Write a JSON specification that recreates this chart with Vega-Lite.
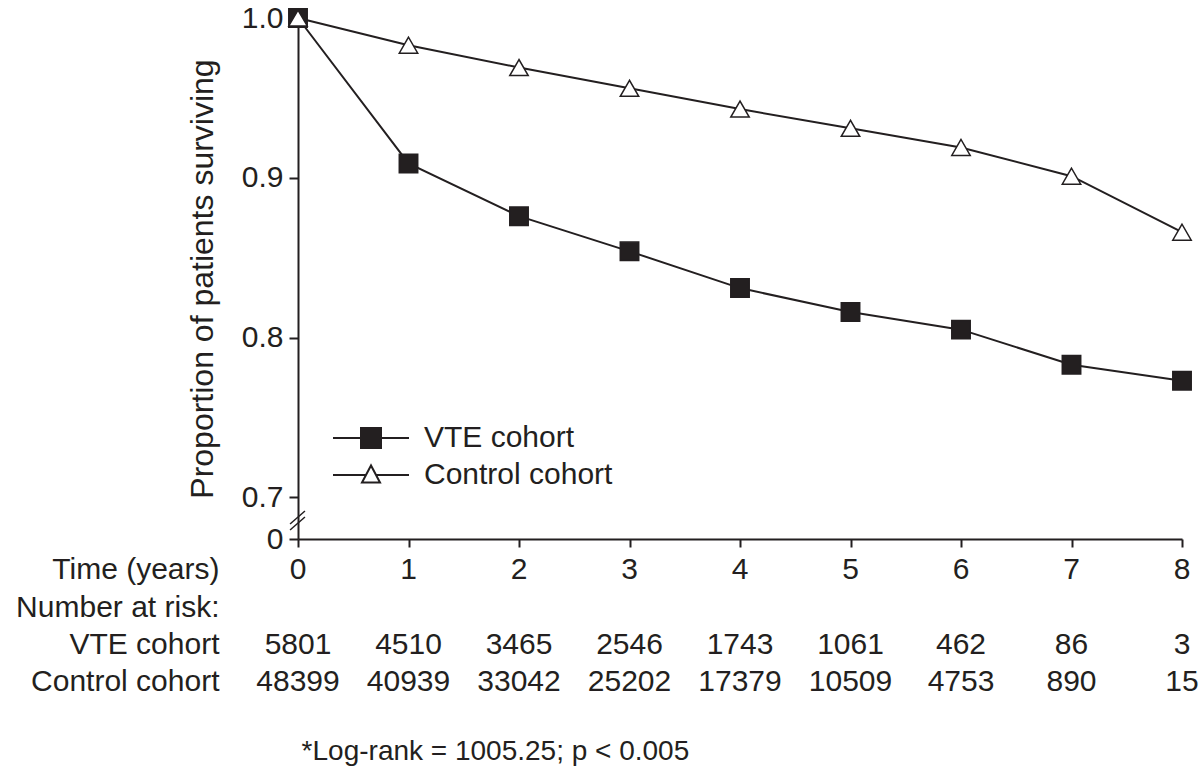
{
  "$schema": "https://vega.github.io/schema/vega-lite/v6.json",
  "padding": {"left": 15, "top": 3, "right": 5, "bottom": 5},
  "background": "white",
  "datasets": {
    "surv": [
      {"cohort": "VTE cohort", "year": 0, "survival": 1.0},
      {"cohort": "VTE cohort", "year": 1, "survival": 0.909},
      {"cohort": "VTE cohort", "year": 2, "survival": 0.876},
      {"cohort": "VTE cohort", "year": 3, "survival": 0.854},
      {"cohort": "VTE cohort", "year": 4, "survival": 0.831},
      {"cohort": "VTE cohort", "year": 5, "survival": 0.816},
      {"cohort": "VTE cohort", "year": 6, "survival": 0.805},
      {"cohort": "VTE cohort", "year": 7, "survival": 0.783},
      {"cohort": "VTE cohort", "year": 8, "survival": 0.773},
      {"cohort": "Control cohort", "year": 0, "survival": 1.0},
      {"cohort": "Control cohort", "year": 1, "survival": 0.983},
      {"cohort": "Control cohort", "year": 2, "survival": 0.969},
      {"cohort": "Control cohort", "year": 3, "survival": 0.956},
      {"cohort": "Control cohort", "year": 4, "survival": 0.943},
      {"cohort": "Control cohort", "year": 5, "survival": 0.931},
      {"cohort": "Control cohort", "year": 6, "survival": 0.919},
      {"cohort": "Control cohort", "year": 7, "survival": 0.901},
      {"cohort": "Control cohort", "year": 8, "survival": 0.866}
    ],
    "risk": [
      {"row": "Time (years)", "year": 0, "value": "0"},
      {"row": "Time (years)", "year": 1, "value": "1"},
      {"row": "Time (years)", "year": 2, "value": "2"},
      {"row": "Time (years)", "year": 3, "value": "3"},
      {"row": "Time (years)", "year": 4, "value": "4"},
      {"row": "Time (years)", "year": 5, "value": "5"},
      {"row": "Time (years)", "year": 6, "value": "6"},
      {"row": "Time (years)", "year": 7, "value": "7"},
      {"row": "Time (years)", "year": 8, "value": "8"},
      {"row": "VTE cohort", "year": 0, "value": "5801"},
      {"row": "VTE cohort", "year": 1, "value": "4510"},
      {"row": "VTE cohort", "year": 2, "value": "3465"},
      {"row": "VTE cohort", "year": 3, "value": "2546"},
      {"row": "VTE cohort", "year": 4, "value": "1743"},
      {"row": "VTE cohort", "year": 5, "value": "1061"},
      {"row": "VTE cohort", "year": 6, "value": "462"},
      {"row": "VTE cohort", "year": 7, "value": "86"},
      {"row": "VTE cohort", "year": 8, "value": "3"},
      {"row": "Control cohort", "year": 0, "value": "48399"},
      {"row": "Control cohort", "year": 1, "value": "40939"},
      {"row": "Control cohort", "year": 2, "value": "33042"},
      {"row": "Control cohort", "year": 3, "value": "25202"},
      {"row": "Control cohort", "year": 4, "value": "17379"},
      {"row": "Control cohort", "year": 5, "value": "10509"},
      {"row": "Control cohort", "year": 6, "value": "4753"},
      {"row": "Control cohort", "year": 7, "value": "890"},
      {"row": "Control cohort", "year": 8, "value": "15"}
    ]
  },
  "title": {
    "text": "*Log-rank = 1005.25; p < 0.005",
    "orient": "bottom",
    "anchor": "start",
    "frame": "bounds",
    "dx": 286,
    "offset": 41,
    "fontSize": 28,
    "fontWeight": "normal",
    "font": "Liberation Sans",
    "color": "#231f20"
  },
  "spacing": 0,
  "vconcat": [
    {
      "width": 884,
      "height": 521,
      "data": {"name": "surv"},
      "resolve": {"scale": {"shape": "independent", "fill": "independent", "stroke": "independent"}},
      "layer": [
        {
          "mark": {"type": "line", "color": "#231f20", "strokeWidth": 2},
          "encoding": {
            "x": {
              "field": "year", "type": "quantitative",
              "scale": {"domain": [0, 8], "nice": false},
              "axis": {
                "values": [0, 1, 2, 3, 4, 5, 6, 7, 8],
                "labels": false, "title": null, "grid": false,
                "tickSize": 8, "tickWidth": 2, "domainWidth": 2,
                "tickColor": "#231f20", "domainColor": "#231f20"
              }
            },
            "y": {
              "field": "survival", "type": "quantitative",
              "scale": {"domain": [0.674, 1.0], "nice": false, "zero": false},
              "axis": {
                "values": [0.674, 0.7, 0.8, 0.9, 1.0],
                "labelExpr": "datum.value < 0.69 ? '0' : format(datum.value, '.1f')",
                "title": "Proportion of patients surviving",
                "titleFontSize": 32, "titleFontWeight": "normal", "titlePadding": 22,
                "titleFont": "Liberation Sans", "titleColor": "#231f20",
                "labelFontSize": 30, "labelFont": "Liberation Sans", "labelColor": "#231f20",
                "labelPadding": 6, "labelFlush": false, "labelOverlap": false,
                "grid": false, "tickSize": 9, "tickWidth": 2, "domainWidth": 2,
                "tickColor": "#231f20", "domainColor": "#231f20"
              }
            },
            "detail": {"field": "cohort", "type": "nominal"}
          }
        },
        {
          "mark": {"type": "point", "filled": true, "size": 340, "stroke": "#231f20", "strokeWidth": 1.5, "opacity": 1},
          "encoding": {
            "x": {"field": "year", "type": "quantitative"},
            "y": {"field": "survival", "type": "quantitative"},
            "shape": {
              "field": "cohort", "type": "nominal",
              "scale": {"domain": ["VTE cohort", "Control cohort"], "range": ["square", "triangle-up"]},
              "legend": null
            },
            "fill": {
              "field": "cohort", "type": "nominal",
              "scale": {"domain": ["VTE cohort", "Control cohort"], "range": ["#231f20", "#ffffff"]},
              "legend": null
            }
          }
        },
        {
          "data": {"values": []},
          "mark": {"type": "point", "filled": true, "strokeWidth": 2, "opacity": 1},
          "encoding": {
            "x": {"field": "year", "type": "quantitative"},
            "y": {"field": "survival", "type": "quantitative"},
            "shape": {
              "field": "cohort", "type": "nominal",
              "scale": {"domain": ["VTE cohort", "Control cohort"], "range": ["M-3.8,0H-1M1,0H3.8M-1,-1H1V1H-1Z", "M-3.8,0H-0.45M0.45,0H3.8M0,-0.95L-0.9,0.75L0.9,0.75Z"]},
              "legend": {
                "title": null, "orient": "none", "legendX": 58, "legendY": 405,
                "labelFontSize": 30, "labelFont": "Liberation Sans", "labelColor": "#231f20",
                "labelOffset": 38, "symbolSize": 400, "rowPadding": 7, "padding": 0, "labelLimit": 400,
                "symbolStrokeWidth": 2, "symbolOpacity": 1
              }
            },
            "fill": {
              "field": "cohort", "type": "nominal",
              "scale": {"domain": ["VTE cohort", "Control cohort"], "range": ["#231f20", "#ffffff"]},
              "legend": {
                "title": null, "orient": "none", "legendX": 58, "legendY": 405,
                "labelFontSize": 30, "labelFont": "Liberation Sans", "labelColor": "#231f20",
                "labelOffset": 38, "symbolSize": 400, "rowPadding": 7, "padding": 0, "labelLimit": 400,
                "symbolStrokeWidth": 2, "symbolOpacity": 1
              }
            },
            "stroke": {
              "field": "cohort", "type": "nominal",
              "scale": {"domain": ["VTE cohort", "Control cohort"], "range": ["#231f20", "#231f20"]},
              "legend": {
                "title": null, "orient": "none", "legendX": 58, "legendY": 405,
                "labelFontSize": 30, "labelFont": "Liberation Sans", "labelColor": "#231f20",
                "labelOffset": 38, "symbolSize": 400, "rowPadding": 7, "padding": 0, "labelLimit": 400,
                "symbolStrokeWidth": 2, "symbolOpacity": 1
              }
            }
          }
        },
        {
          "data": {"values": [{}]},
          "mark": {"type": "rule", "color": "#231f20", "strokeWidth": 1.5},
          "encoding": {
            "x": {"datum": -0.072, "type": "quantitative"},
            "x2": {"datum": 0.063},
            "y": {"datum": 0.6834, "type": "quantitative"},
            "y2": {"datum": 0.6915}
          }
        },
        {
          "data": {"values": [{}]},
          "mark": {"type": "rule", "color": "#231f20", "strokeWidth": 1.5},
          "encoding": {
            "x": {"datum": -0.072, "type": "quantitative"},
            "x2": {"datum": 0.063},
            "y": {"datum": 0.6796, "type": "quantitative"},
            "y2": {"datum": 0.6878}
          }
        }
      ]
    },
    {
      "width": 884,
      "height": {"step": 37.33},
      "data": {"name": "risk"},
      "mark": {"type": "text", "fontSize": 30, "font": "Liberation Sans", "color": "#231f20", "align": "center", "baseline": "middle"},
      "encoding": {
        "x": {"field": "year", "type": "quantitative", "scale": {"domain": [0, 8], "nice": false}, "axis": null},
        "y": {
          "field": "row", "type": "nominal",
          "scale": {"domain": ["Time (years)", "Number at risk:", "VTE cohort", "Control cohort"], "padding": 0.4},
          "axis": {
            "title": null, "domain": false, "ticks": false,
            "labelFontSize": 30, "labelFont": "Liberation Sans", "labelColor": "#231f20",
            "labelPadding": 79, "labelLimit": 400
          }
        },
        "text": {"field": "value", "type": "nominal"}
      }
    }
  ],
  "config": {
    "view": {"stroke": null},
    "font": "Liberation Sans"
  }
}
